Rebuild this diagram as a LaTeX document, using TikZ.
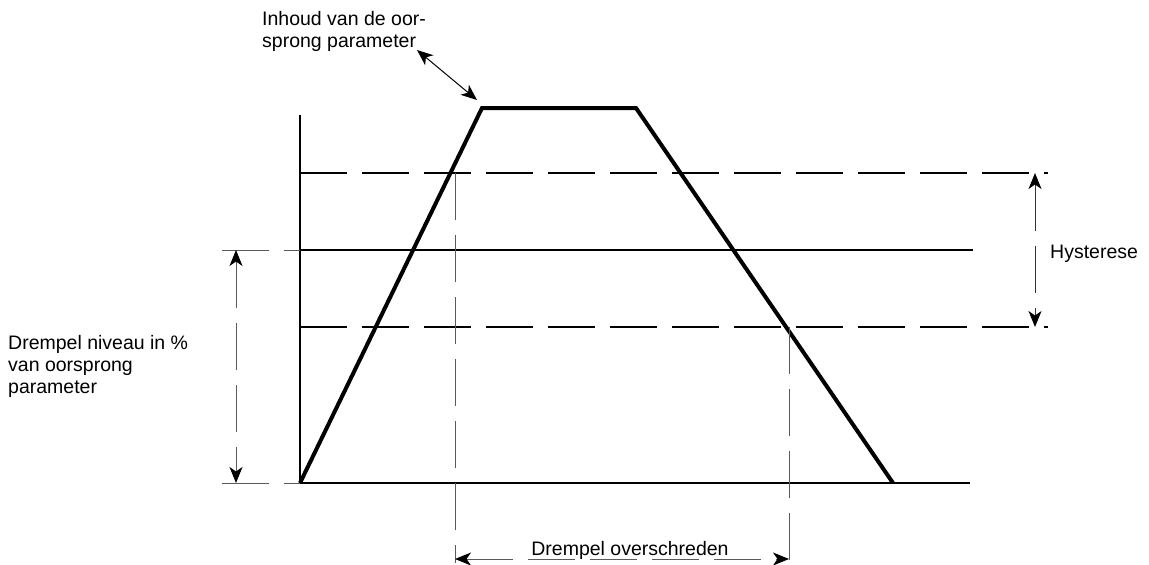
\documentclass[tikz,border=0pt]{standalone}
\usepackage{fontspec}
\setmainfont{Liberation Sans}
\usetikzlibrary{arrows.meta}

\begin{document}
\begin{tikzpicture}[x=1pt,y=-1pt,>={Stealth[length=16pt,width=13pt,inset=4.5pt,color=black]},
    lang/.style={dash pattern=on 47pt off 15pt},
    maat/.style={lang,dimgray,line width=1pt},
    lbl/.style={inner sep=0pt,font=\fontsize{19.5}{22}\selectfont,align=left}]
    \definecolor{dimgray}{HTML}{5A5A5A}
    \useasboundingbox (0,0) rectangle (1149,565);
    % punten van de grafiek
    \coordinate (o) at (300,483);
    \coordinate (ytop) at (300,115);
    \coordinate (xend) at (970,483);
    \coordinate (t1) at (482,108);
    \coordinate (t2) at (636,108);
    \coordinate (t3) at (893,483);
    % niveaus
    \coordinate (hi) at (300,173);   \coordinate (hiend) at (1048,173);
    \coordinate (mid) at (300,250);  \coordinate (midend) at (973,250);
    \coordinate (lo) at (300,327);   \coordinate (loend) at (1048,327);
    \coordinate (midl) at (222,250); \coordinate (ol) at (222,483);
    % assen en drempel
    \draw[line width=2.4pt] (ytop) -- (o) -- (xend);
    \draw[line width=1.5pt] (mid) -- (midend);
    \draw[lang,line width=1.1pt] (hi) -- (hiend);
    \draw[lang,line width=1.1pt] (lo) -- (loend);
    \draw[maat] (midl) -- (mid);
    \draw[maat] (ol) -- (o);
    % signaal
    \draw[line width=4pt,line join=miter] (o) -- (t1) -- (t2) -- (t3);
    % overschrijding
    \coordinate (v1) at (455,173); \coordinate (v1b) at (455,563);
    \coordinate (v2) at (789,327); \coordinate (v2b) at (789,563);
    \draw[maat] (v1) -- (v1b);
    \draw[maat] (v2) -- (v2b);
    \coordinate (a1) at (455,559); \coordinate (a2) at (789,559);
    \draw[maat,<->] (a1) -- (a2);
    \node[lbl,anchor=base] (over) at (630,555) {Drempel overschreden};
    % drempelniveau
    \coordinate (d1) at (236,250); \coordinate (d2) at (236,483);
    \draw[maat,<->] (d1) -- (d2);
    \node[lbl,anchor=west] (niveau) at (8,366)
      {Drempel niveau in \%\\van oorsprong\\parameter};
    % hysterese
    \coordinate (h1) at (1035,173); \coordinate (h2) at (1035,327);
    \draw[maat,black!80,<->] (h1) -- (h2);
    \node[lbl,anchor=base west] (hyst) at (1050,258) {Hysterese};
    % oorsprong
    \node[lbl,anchor=west] (inhoud) at (262,31.5)
      {Inhoud van de oor-\\sprong parameter};
    \coordinate (p1) at (417,50); \coordinate (p2) at (477,100);
    \draw[line width=1pt,<->] (p1) -- (p2);
\end{tikzpicture}
\end{document}
